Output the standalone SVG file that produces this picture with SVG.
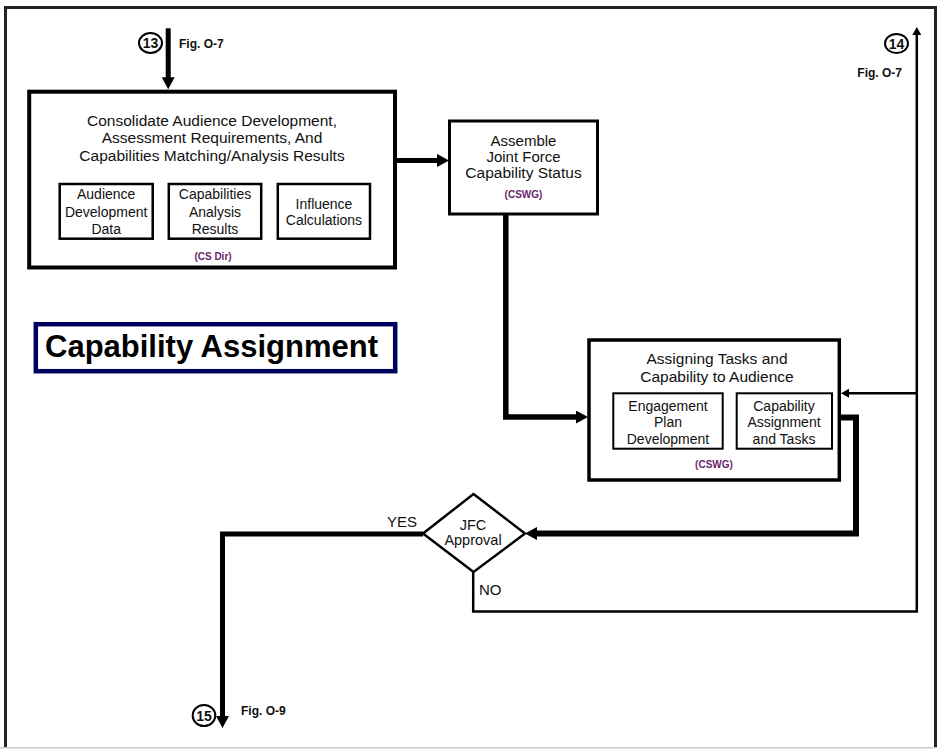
<svg xmlns="http://www.w3.org/2000/svg" width="937" height="749" viewBox="0 0 937 749">
<style>
.box{fill:#fff;stroke:#000;}
.t{font-family:"Liberation Sans",Arial,sans-serif;fill:#111;text-anchor:middle;}
.big{font-size:15.5px;}
.sm{font-size:14px;}
.org{font-family:"Liberation Sans",Arial,sans-serif;font-size:10px;font-weight:bold;fill:#6b1f6b;text-anchor:middle;}
.fig{font-family:"Liberation Sans",Arial,sans-serif;font-size:12px;font-weight:bold;fill:#111;}
.num{font-family:"Liberation Sans",Arial,sans-serif;font-size:14px;font-weight:bold;fill:#111;text-anchor:middle;}
.conn{fill:none;stroke:#000;stroke-linejoin:miter;}
.lbl{font-family:"Liberation Sans",Arial,sans-serif;font-size:15px;fill:#111;}
</style>
<defs>
<marker id="ahThick" markerUnits="userSpaceOnUse" markerWidth="12" markerHeight="13" refX="3" refY="6.5" orient="auto">
<path d="M0,0 L12,6.5 L0,13 z" fill="#000"/>
</marker>
<marker id="ahThin" markerUnits="userSpaceOnUse" markerWidth="8" markerHeight="9" refX="2" refY="4.5" orient="auto">
<path d="M0,0 L8,4.5 L0,9 z" fill="#000"/>
</marker>
</defs>
<rect x="0" y="0" width="937" height="749" fill="#fff"/>
<g id="frame">
<path d="M5.5,748 V7.5 H935.5 V748" fill="none" stroke="#222" stroke-width="3"/>
<line x1="0" y1="747.8" x2="937" y2="747.8" stroke="#ccc" stroke-width="1.5"/>
</g>

<g id="connectors">
<path class="conn" d="M168.2,28.3 V80.3" stroke-width="5" marker-end="url(#ahThick)"/>
<path class="conn" d="M397,160.4 H440" stroke-width="5" marker-end="url(#ahThick)"/>
<path class="conn" d="M505.8,214 V417 H579" stroke-width="5.5" marker-end="url(#ahThick)"/>
<path class="conn" d="M840,417.5 H856 V533.5 H534" stroke-width="6" marker-end="url(#ahThick)"/>
<path class="conn" d="M423,534 H222.5 V719" stroke-width="5" marker-end="url(#ahThick)"/>
<path class="conn" d="M473.2,572 V611.5 H916.8 V33" stroke-width="2.5" marker-end="url(#ahThin)"/>
<path class="conn" d="M916.8,393.3 H847" stroke-width="2.5" marker-end="url(#ahThin)"/>
</g>

<g id="ref13">
<ellipse cx="150.5" cy="43" rx="11.5" ry="10" fill="#fff" stroke="#000" stroke-width="2"/>
<text class="num" x="150.5" y="48">13</text>
<text class="fig" x="179" y="48">Fig. O-7</text>
</g>

<g id="ref14">
<ellipse cx="896.5" cy="43.5" rx="11.5" ry="9.5" fill="#fff" stroke="#000" stroke-width="2"/>
<text class="num" x="896.5" y="49">14</text>
<text class="fig" x="902" y="76.5" text-anchor="end">Fig. O-7</text>
</g>

<g id="ref15">
<ellipse cx="204" cy="715.5" rx="11.3" ry="10.5" fill="#fff" stroke="#000" stroke-width="2"/>
<text class="num" x="204" y="720.5">15</text>
<text class="fig" x="241" y="714.5">Fig. O-9</text>
</g>

<g id="consolidate">
<rect class="box" x="29.2" y="91.7" width="365.8" height="175.8" stroke-width="4"/>
<text class="t big" x="212" y="125.7">Consolidate Audience Development,</text>
<text class="t big" x="212" y="143.3">Assessment Requirements,  And</text>
<text class="t big" x="212" y="161">Capabilities Matching/Analysis Results</text>
<g id="audience-data">
<rect class="box" x="59.7" y="184" width="93" height="54.7" stroke-width="2.5"/>
<text class="t sm" x="106.2" y="199.3">Audience</text>
<text class="t sm" x="106.2" y="217">Development</text>
<text class="t sm" x="106.2" y="234.3">Data</text>
</g>
<g id="capabilities-analysis">
<rect class="box" x="168.8" y="184" width="92.4" height="54.7" stroke-width="2.5"/>
<text class="t sm" x="215" y="199.3">Capabilities</text>
<text class="t sm" x="215" y="217">Analysis</text>
<text class="t sm" x="215" y="234.3">Results</text>
</g>
<g id="influence-calc">
<rect class="box" x="277.8" y="184" width="92.2" height="54.7" stroke-width="2.5"/>
<text class="t sm" x="324" y="209">Influence</text>
<text class="t sm" x="324" y="224.5">Calculations</text>
</g>
<text class="org" x="213" y="259.5">(CS Dir)</text>
</g>

<g id="assemble">
<rect class="box" x="449.5" y="121" width="148" height="93" stroke-width="3"/>
<text class="t" font-size="15" x="523.5" y="146">Assemble</text>
<text class="t" font-size="15" x="523.5" y="162">Joint Force</text>
<text class="t" font-size="15.5" x="523.5" y="177.5">Capability Status</text>
<text class="org" x="523.5" y="198.3">(CSWG)</text>
</g>

<g id="title">
<rect x="35.8" y="324.2" width="359.4" height="47" fill="#fff" stroke="#000060" stroke-width="4.5"/>
<text x="45" y="357" font-family="'Liberation Sans',Arial,sans-serif" font-size="31" font-weight="bold" fill="#000">Capability Assignment</text>
</g>

<g id="assigning">
<rect class="box" x="589" y="340" width="250.3" height="140" stroke-width="3.5"/>
<text class="t big" x="717" y="364.3">Assigning Tasks and</text>
<text class="t big" x="717" y="381.7">Capability to Audience</text>
<g id="engagement-plan">
<rect class="box" x="613.3" y="393.3" width="109.4" height="55.4" stroke-width="2"/>
<text class="t sm" x="668" y="410.7">Engagement</text>
<text class="t sm" x="668" y="426.5">Plan</text>
<text class="t sm" x="668" y="443.5">Development</text>
</g>
<g id="capability-tasks">
<rect class="box" x="736.7" y="393.3" width="95.3" height="55.4" stroke-width="2"/>
<text class="t sm" x="784" y="410.7">Capability</text>
<text class="t sm" x="784" y="426.5">Assignment</text>
<text class="t sm" x="784" y="443.5">and Tasks</text>
</g>
<text class="org" x="714" y="468.3">(CSWG)</text>
</g>

<g id="jfc-approval">
<polygon points="473.5,494 525,533.5 473.5,572 423,533.5" fill="#fff" stroke="#000" stroke-width="2.5"/>
<text class="t" x="473" y="529.5" font-size="14.5">JFC</text>
<text class="t" x="473" y="544.5" font-size="14.5">Approval</text>
</g>

<g id="labels">
<text class="lbl" x="387" y="527">YES</text>
<text class="lbl" x="479" y="595">NO</text>
</g>
</svg>
